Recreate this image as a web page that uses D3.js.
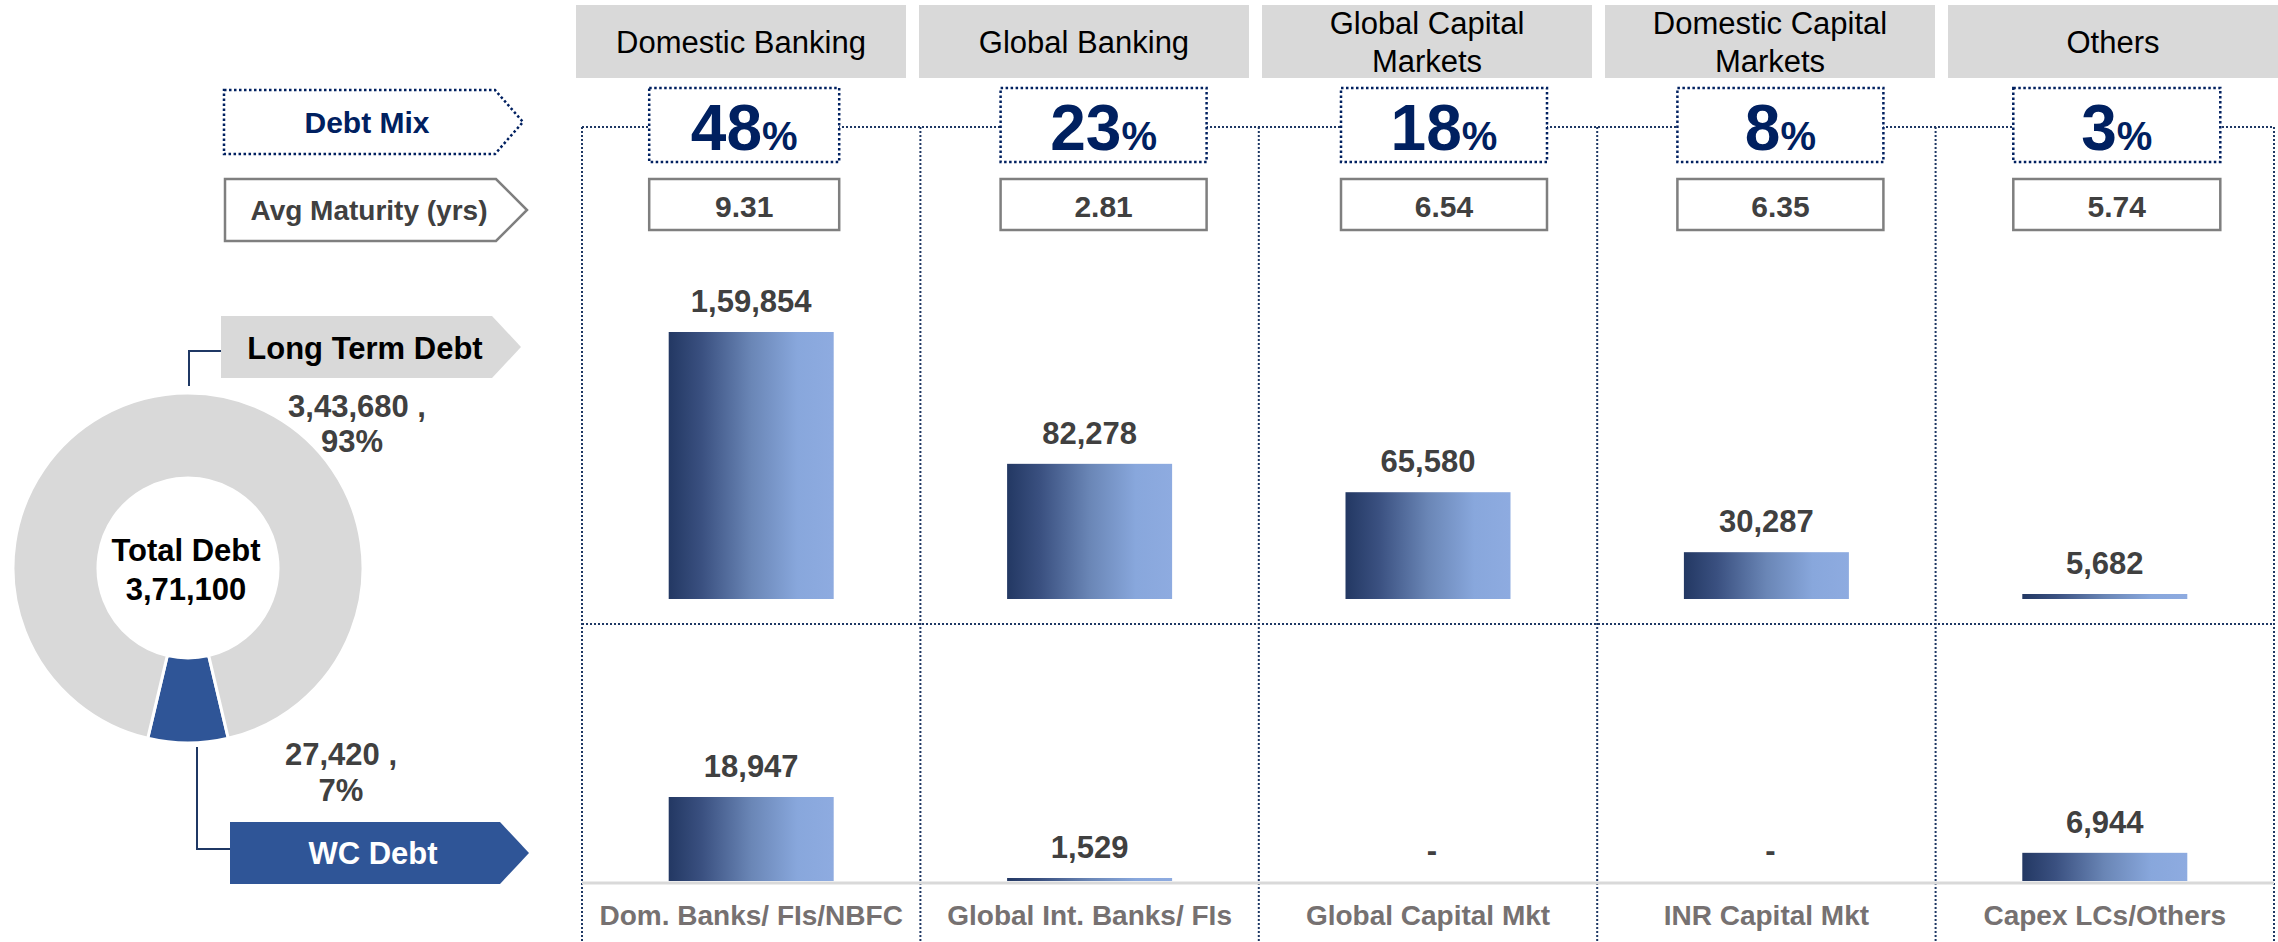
<!DOCTYPE html>
<html>
<head>
<meta charset="utf-8">
<script src="https://cdn.jsdelivr.net/npm/d3@7"></script>
<style>
  html, body { margin: 0; padding: 0; background: #ffffff; }
  svg { display: block; font-family: "Liberation Sans", Arial, Helvetica, sans-serif; }
</style>
</head>
<body>
<svg id="chart" width="2278" height="942"></svg>
<script>
// ---------------- DATA ----------------
const segments = ["Domestic Banking", "Global Banking", "Global Capital\nMarkets", "Domestic Capital\nMarkets", "Others"];
const sources = ["Dom. Banks/ FIs/NBFC", "Global Int. Banks/ FIs", "Global Capital Mkt", "INR Capital Mkt", "Capex LCs/Others"];
const debtMixPct = [48, 23, 18, 8, 3];
const avgMaturity = [9.31, 2.81, 6.54, 6.35, 5.74];
const longTermDebt = [159854, 82278, 65580, 30287, 5682];
const wcDebt = [18947, 1529, 0, 0, 6944];
const debtTypes = ["WC Debt", "Long Term Debt"];
const debtTypeValues = [27420, 343680];
const totalDebtLabel = "Total Debt";

// ---------------- LAYOUT ----------------
const W = 2278, H = 942;
const NAVY = "#002060", LINE = "#1f3864", GREY = "#d9d9d9", DARK = "#404040";
const layout = {
  headerRange: [576, 2278], headerY: 5, headerH: 73,
  colRange: [582, 2274], gridTop: 127, midLine: 624, baseLine: 883,
  mixY: 88, mixH: 74, matY: 179, matH: 51,
  boxDx: [-7, 14, 16, 14, 12], boxW: [190, 206, 206, 206, 207],
  barW: 165,
  topRange: [599, 332], topMin: 2740,
  botRange: [881, 797], botMin: 884,
  donutC: [188, 568], rOuter: 175, rInner: 90
};

function inr(n) {
  if (!n) return "-";
  const s = String(Math.round(n));
  if (s.length <= 3) return s;
  const last3 = s.slice(-3);
  const rest = s.slice(0, -3).replace(/\B(?=(\d{2})+(?!\d))/g, ",");
  return rest + "," + last3;
}

const svg = d3.select("#chart");
svg.append("rect").attr("width", W).attr("height", H).attr("fill", "#fff");

const defs = svg.append("defs");
const grad = defs.append("linearGradient").attr("id", "barGrad")
  .attr("x1", "0").attr("x2", "1").attr("y1", "0").attr("y2", "0");
[["0%", "#233863"], ["20%", "#3a5080"], ["50%", "#6a86b6"], ["78%", "#88a7dc"], ["100%", "#8eabe0"]]
  .forEach(([o, c]) => grad.append("stop").attr("offset", o).attr("stop-color", c));

// ---------------- SCALES ----------------
const hx = d3.scaleBand().domain(segments).range(layout.headerRange).paddingInner(0.038);
const cx = d3.scaleBand().domain(segments).range(layout.colRange);
const yTop = d3.scaleLinear().domain([layout.topMin, d3.max(longTermDebt)]).range(layout.topRange).clamp(true);
const yBot = d3.scaleLinear().domain([layout.botMin, d3.max(wcDebt)]).range(layout.botRange).clamp(true);
const colCenter = s => cx(s) + cx.bandwidth() / 2;

// ---------------- HEADERS ----------------
const hdr = svg.append("g").selectAll("g").data(segments).join("g");
hdr.append("rect")
  .attr("x", d => hx(d)).attr("y", layout.headerY)
  .attr("width", hx.bandwidth()).attr("height", layout.headerH)
  .attr("fill", GREY);
hdr.each(function (d) {
  const lines = d.split("\n");
  const t = d3.select(this).append("text")
    .attr("text-anchor", "middle").attr("font-size", 31).attr("fill", "#000");
  const x = hx(d) + hx.bandwidth() / 2;
  if (lines.length === 1) {
    t.append("tspan").attr("x", x).attr("y", 53).text(lines[0]);
  } else {
    lines.forEach((l, i) => t.append("tspan").attr("x", x).attr("y", 34 + i * 38).text(l));
  }
});

// ---------------- GRID LINES ----------------
const grid = svg.append("g").attr("stroke", LINE).attr("stroke-width", 2).attr("stroke-dasharray", "2,2").attr("fill", "none");
const edges = segments.map(s => cx(s)).concat([layout.colRange[1]]);
grid.selectAll("line.v").data(edges).join("line").attr("class", "v")
  .attr("x1", d => d).attr("x2", d => d).attr("y1", layout.gridTop).attr("y2", H);
grid.append("line").attr("x1", layout.colRange[0]).attr("x2", layout.colRange[1])
  .attr("y1", layout.gridTop).attr("y2", layout.gridTop);
grid.append("line").attr("x1", layout.colRange[0]).attr("x2", layout.colRange[1])
  .attr("y1", layout.midLine).attr("y2", layout.midLine);

// baseline (grey)
svg.append("line").attr("x1", layout.colRange[0]).attr("x2", layout.colRange[1])
  .attr("y1", layout.baseLine).attr("y2", layout.baseLine)
  .attr("stroke", GREY).attr("stroke-width", 3);

// ---------------- DEBT MIX / MATURITY BOXES ----------------
const boxX = (s, i) => colCenter(s) + layout.boxDx[i] - layout.boxW[i] / 2;
const mix = svg.append("g").selectAll("g").data(segments).join("g");
mix.append("rect")
  .attr("x", (d, i) => boxX(d, i)).attr("y", layout.mixY)
  .attr("width", (d, i) => layout.boxW[i]).attr("height", layout.mixH)
  .attr("fill", "#fff").attr("stroke", NAVY).attr("stroke-width", 2.5).attr("stroke-dasharray", "2.5,2.5");
mix.append("text")
  .attr("x", (d, i) => colCenter(d) + layout.boxDx[i]).attr("y", 150)
  .attr("text-anchor", "middle").attr("font-weight", "bold").attr("fill", NAVY)
  .each(function (d, i) {
    const t = d3.select(this);
    t.append("tspan").attr("font-size", 64).text(debtMixPct[i]);
    t.append("tspan").attr("font-size", 40).text("%");
  });

const mat = svg.append("g").selectAll("g").data(segments).join("g");
mat.append("rect")
  .attr("x", (d, i) => boxX(d, i)).attr("y", layout.matY)
  .attr("width", (d, i) => layout.boxW[i]).attr("height", layout.matH)
  .attr("fill", "#fff").attr("stroke", "#7f7f7f").attr("stroke-width", 2.5);
mat.append("text")
  .attr("x", (d, i) => colCenter(d) + layout.boxDx[i]).attr("y", 217)
  .attr("text-anchor", "middle").attr("font-weight", "bold").attr("font-size", 30).attr("fill", DARK)
  .text((d, i) => avgMaturity[i].toFixed(2));

// ---------------- BARS ----------------
function drawBars(values, y, base) {
  const g = svg.append("g");
  g.selectAll("rect").data(values).join("rect")
    .attr("x", (d, i) => colCenter(segments[i]) - layout.barW / 2)
    .attr("y", d => y(d))
    .attr("width", layout.barW)
    .attr("height", d => Math.max(0, base - y(d)))
    .attr("fill", "url(#barGrad)")
    .attr("display", d => d > 0 ? null : "none");
  g.selectAll("text").data(values).join("text")
    .attr("x", (d, i) => colCenter(segments[i]) + (d > 0 ? 0 : 4))
    .attr("y", d => (d > 0 ? y(d) : base) - 20)
    .attr("text-anchor", "middle").attr("font-weight", "bold").attr("font-size", 31).attr("fill", DARK)
    .text(d => inr(d));
}
drawBars(longTermDebt, yTop, layout.topRange[0]);
drawBars(wcDebt, yBot, layout.botRange[0]);

// source labels
svg.append("g").selectAll("text").data(sources).join("text")
  .attr("x", (d, i) => colCenter(segments[i])).attr("y", 925)
  .attr("text-anchor", "middle").attr("font-weight", "bold").attr("font-size", 28).attr("fill", "#767171")
  .text(d => d);

// ---------------- LEFT LABEL ARROWS ----------------
function arrow(x0, y0, x1, tip, y1) {
  const ym = (y0 + y1) / 2;
  return `M${x0},${y0}L${x1},${y0}L${tip},${ym}L${x1},${y1}L${x0},${y1}Z`;
}
svg.append("path").attr("d", arrow(224, 90, 495, 523, 154))
  .attr("fill", "#fff").attr("stroke", NAVY).attr("stroke-width", 2.5).attr("stroke-dasharray", "2.5,2.5");
svg.append("text").attr("x", 367).attr("y", 133).attr("text-anchor", "middle")
  .attr("font-weight", "bold").attr("font-size", 30).attr("fill", NAVY).text("Debt Mix");

svg.append("path").attr("d", arrow(225, 179, 496, 527, 241))
  .attr("fill", "#fff").attr("stroke", "#7f7f7f").attr("stroke-width", 2.5);
svg.append("text").attr("x", 369).attr("y", 220).attr("text-anchor", "middle")
  .attr("font-weight", "bold").attr("font-size", 28).attr("fill", DARK).text("Avg Maturity (yrs)");

svg.append("path").attr("d", arrow(221, 316, 492, 521, 378)).attr("fill", GREY);
svg.append("text").attr("x", 365).attr("y", 359).attr("text-anchor", "middle")
  .attr("font-weight", "bold").attr("font-size", 31).attr("fill", "#000").text(debtTypes[1]);

svg.append("path").attr("d", arrow(230, 822, 500, 529, 884)).attr("fill", "#2f5597");
svg.append("text").attr("x", 373).attr("y", 864).attr("text-anchor", "middle")
  .attr("font-weight", "bold").attr("font-size", 31).attr("fill", "#fff").text(debtTypes[0]);

// connectors
svg.append("path").attr("d", "M221,351H189V386").attr("fill", "none").attr("stroke", LINE).attr("stroke-width", 2);
svg.append("path").attr("d", "M197,747V849H230").attr("fill", "none").attr("stroke", LINE).attr("stroke-width", 2);

// ---------------- DONUT ----------------
const total = d3.sum(debtTypeValues);
const wcFrac = debtTypeValues[0] / total;
const start = Math.PI - wcFrac * Math.PI;
const pie = d3.pie().sort(null).startAngle(start).endAngle(start + 2 * Math.PI);
const arc = d3.arc().innerRadius(layout.rInner).outerRadius(layout.rOuter);
const donut = svg.append("g").attr("transform", `translate(${layout.donutC[0]},${layout.donutC[1]})`);
donut.selectAll("path").data(pie(debtTypeValues)).join("path")
  .attr("d", arc)
  .attr("fill", (d, i) => i === 0 ? "#2f5597" : GREY)
  .attr("stroke", "#fff").attr("stroke-width", 3);

const ctr = svg.append("text").attr("text-anchor", "middle").attr("font-weight", "bold").attr("font-size", 31).attr("fill", "#000");
ctr.append("tspan").attr("x", 186).attr("y", 561).text(totalDebtLabel);
ctr.append("tspan").attr("x", 186).attr("y", 600).text(inr(total));

const pct = v => Math.round(v / total * 100) + "%";
const l1 = svg.append("text").attr("text-anchor", "middle").attr("font-weight", "bold").attr("font-size", 31).attr("fill", DARK);
l1.append("tspan").attr("x", 357).attr("y", 417).text(inr(debtTypeValues[1]) + " ,");
l1.append("tspan").attr("x", 352).attr("y", 452).text(pct(debtTypeValues[1]));
const l2 = svg.append("text").attr("text-anchor", "middle").attr("font-weight", "bold").attr("font-size", 31).attr("fill", DARK);
l2.append("tspan").attr("x", 341).attr("y", 765).text(inr(debtTypeValues[0]) + " ,");
l2.append("tspan").attr("x", 341).attr("y", 801).text(pct(debtTypeValues[0]));
</script>
</body>
</html>
